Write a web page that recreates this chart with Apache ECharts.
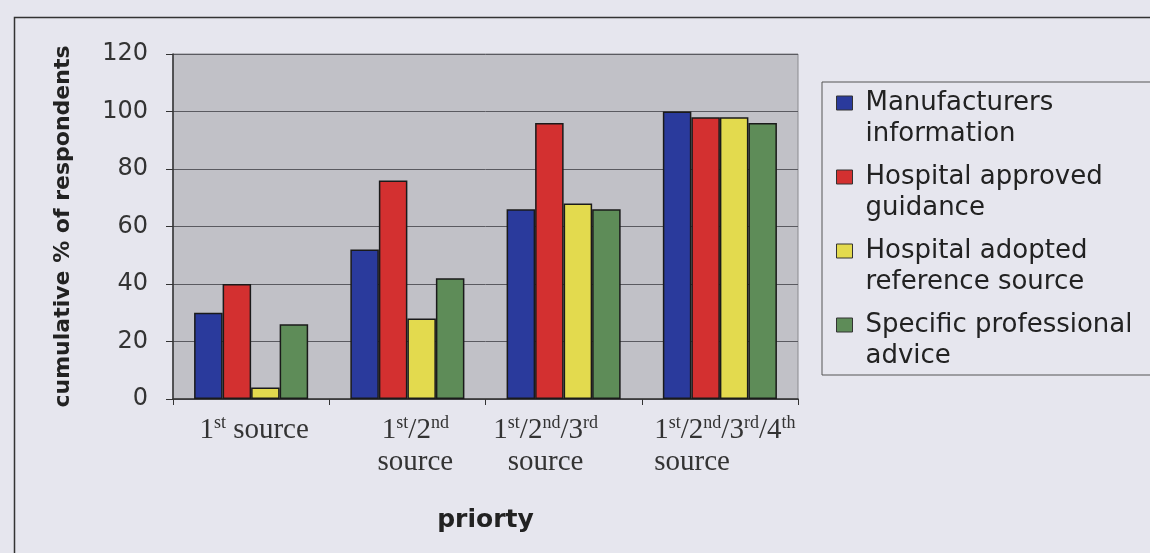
<!DOCTYPE html>
<html>
<head>
<meta charset="utf-8">
<script src="https://cdn.jsdelivr.net/npm/echarts@6/dist/echarts.min.js"></script>
<style>
html,body{margin:0;padding:0;background:#e6e6ee;}
#chart{width:1150px;height:553px;}
</style>
</head>
<body>
<div id="chart"></div>
<script>
// ---- data ----
const categories = ['1st source', '1st/2nd source', '1st/2nd/3rd source', '1st/2nd/3rd/4th source'];
const seriesNames = ['Manufacturers\ninformation', 'Hospital approved\nguidance', 'Hospital adopted\nreference source', 'Specific professional\nadvice'];
const manufacturers = [30, 52, 66, 100];
const hospitalApproved = [40, 76, 96, 98];
const hospitalAdopted = [4, 28, 68, 98];
const professionalAdvice = [26, 42, 66, 96];
const yTicks = [0, 20, 40, 60, 80, 100, 120];
const yAxisTitle = 'cumulative % of respondents';
const xAxisTitle = 'priorty';

// rich-text versions of the category labels (superscripts)
const categoryRich = [
  '{n|1}{s|st}{n| source}',
  '{n|1}{s|st}{n|/2}{s|nd}\n{n|source}',
  '{n|1}{s|st}{n|/2}{s|nd}{n|/3}{s|rd}\n{n|source}',
  '{n|1}{s|st}{n|/2}{s|nd}{n|/3}{s|rd}{n|/4}{s|th}\n{l|source}'
];
const labelPads = [[0,0,0,6],[0,0,0,16],[0,36,0,0],[0,0,0,10]];

const colors = ['#2a3a9c', '#d33030', '#e3da4e', '#5e8c58'];
const values = [manufacturers, hospitalApproved, hospitalAdopted, professionalAdvice];

// legend marker: square at the top of a tall (invisible) box so it sits beside the first text line
const legendIcon = 'path://M0,0L16,0L16,14L0,14ZM0,46';

const chart = echarts.init(document.getElementById('chart'));
const option = {
  backgroundColor: '#e6e6ee',
  animation: false,
  graphic: [{
    type: 'rect', left: 12, top: 15, silent: true,
    shape: { width: 1300, height: 700 },
    style: { fill: 'none', stroke: '#333', lineWidth: 1.5 }
  }],
  grid: {
    left: 173, top: 54, right: 352, bottom: 154,
    show: true, backgroundColor: '#c1c1c7', borderColor: '#8a8a8e', borderWidth: 1
  },
  legend: {
    orient: 'vertical', left: 822, top: 82,
    padding: [6, 40, 3, 14],
    itemGap: 12, itemWidth: 16, itemHeight: 46,
    backgroundColor: '#e6e6ee', borderColor: '#555', borderWidth: 1,
    itemStyle: { borderColor: '#333', borderWidth: 1 },
    textStyle: {
      fontFamily: 'DejaVu Sans', fontSize: 26, color: '#222',
      lineHeight: 31, padding: [0, 0, 0, 8]
    },
    data: seriesNames.map(n => ({ name: n, icon: legendIcon }))
  },
  xAxis: {
    type: 'category',
    data: categories.map((c, i) => ({ value: c, textStyle: { padding: labelPads[i] } })),
    name: xAxisTitle, nameLocation: 'middle', nameGap: 109,
    nameTextStyle: { fontFamily: 'DejaVu Sans', fontWeight: 'bold', fontSize: 25, color: '#222' },
    axisLine: { lineStyle: { color: '#333', width: 1.5 } },
    axisTick: { show: true, length: 6, lineStyle: { color: '#333' } },
    axisLabel: {
      interval: 0, margin: 15,
      formatter: function (v, i) { return categoryRich[i]; },
      rich: {
        n: { fontFamily: 'Liberation Serif', fontSize: 29, color: '#333', lineHeight: 32 },
        s: { fontFamily: 'Liberation Serif', fontSize: 18, color: '#333', verticalAlign: 'top', lineHeight: 14 },
        l: { fontFamily: 'Liberation Serif', fontSize: 29, color: '#333', lineHeight: 32, align: 'left' }
      }
    }
  },
  yAxis: {
    type: 'value', min: yTicks[0], max: yTicks[yTicks.length - 1], interval: 20,
    name: yAxisTitle, nameLocation: 'middle', nameRotate: 90, nameGap: 99,
    nameTextStyle: { fontFamily: 'DejaVu Sans', fontWeight: 'bold', fontSize: 22, color: '#222' },
    axisLine: { show: true, lineStyle: { color: '#333', width: 1.5 } },
    axisTick: { show: true, length: 7, lineStyle: { color: '#333' } },
    axisLabel: { margin: 25, fontFamily: 'DejaVu Sans', fontSize: 24, color: '#333' },
    splitLine: { show: true, lineStyle: { color: '#5a5a60', width: 1 } }
  },
  series: seriesNames.map((name, i) => ({
    name: name, type: 'bar', data: values[i],
    barGap: '0%', barCategoryGap: '27%',
    itemStyle: { color: colors[i], borderColor: '#1a1a1a', borderWidth: 1.5 }
  }))
};
chart.setOption(option);
</script>
</body>
</html>
